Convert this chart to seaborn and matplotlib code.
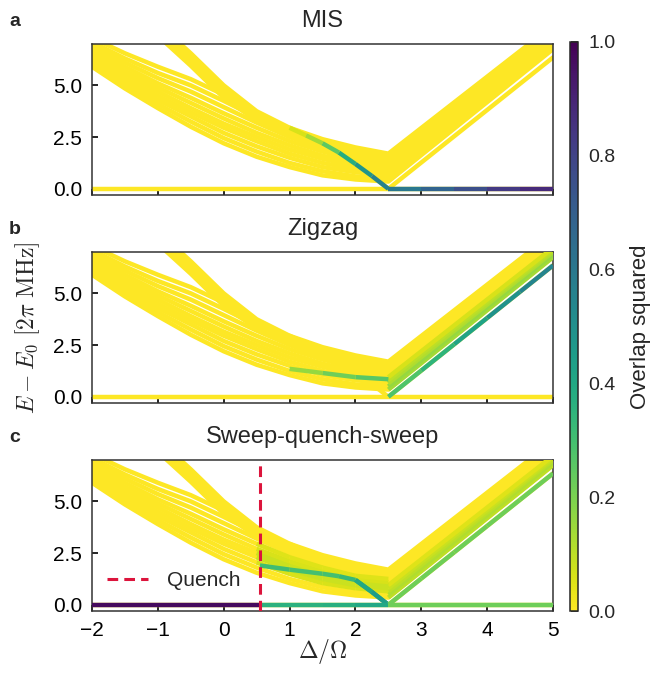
import numpy as np
import pandas as pd
import matplotlib
matplotlib.use("Agg")
import matplotlib.pyplot as plt
import seaborn as sns
from matplotlib.collections import LineCollection
from matplotlib.lines import Line2D
from matplotlib.cm import ScalarMappable
from matplotlib.colors import Normalize

# ---------------- data ----------------
X_KNOTS = [-2.0, -1.5, -1.0, -0.5, 0.0, 0.5, 1.0, 1.5, 2.0, 2.5, 5.0]

# lower band of excited levels
B1 = [5.90, 4.85, 3.90, 3.00, 2.20, 1.55, 1.05, 0.65, 0.45, 0.35, 6.75]
B2 = [6.05, 5.00, 4.10, 3.25, 2.45, 1.80, 1.25, 0.85, 0.60, 0.50, 6.90]
B3 = [6.20, 5.20, 4.30, 3.50, 2.70, 2.05, 1.50, 1.05, 0.80, 0.65, 7.00]
B4 = [6.35, 5.35, 4.50, 3.70, 2.95, 2.30, 1.70, 1.25, 0.95, 0.80, 7.10]
B5 = [6.50, 5.55, 4.70, 3.90, 3.15, 2.50, 1.90, 1.45, 1.10, 0.95, 7.20]
B6 = [6.65, 5.70, 4.90, 4.15, 3.40, 2.70, 2.10, 1.60, 1.25, 1.10, 7.30]
B7 = [6.80, 5.90, 5.10, 4.40, 3.65, 2.95, 2.30, 1.80, 1.40, 1.25, 7.40]
B8 = [6.95, 6.10, 5.35, 4.70, 3.95, 3.20, 2.50, 1.95, 1.55, 1.40, 7.50]
B9 = [7.10, 6.30, 5.60, 5.00, 4.25, 3.45, 2.70, 2.15, 1.70, 1.50, 7.65]
B10 = [7.30, 6.55, 5.90, 5.30, 4.55, 3.65, 2.90, 2.30, 1.85, 1.60, 7.80]
# steep band of levels
S1 = [11.0, 9.50, 8.00, 6.55, 5.00, 3.75, 2.95, 2.40, 2.00, 1.70, 7.90]
S2 = [11.0, 9.30, 7.80, 6.35, 4.80, 3.60, 2.80, 2.30, 1.90, 1.62, 7.80]
S3 = [11.0, 9.10, 7.60, 6.15, 4.60, 3.45, 2.70, 2.20, 1.80, 1.55, 7.70]
S4 = [11.0, 8.90, 7.40, 5.95, 4.40, 3.30, 2.60, 2.10, 1.75, 1.50, 7.60]

# ground level
GROUND_X = [-2.0, -1.5, -1.0, -0.5, 0.0, 0.5, 0.55, 1.0, 1.5, 2.0, 2.5, 3.0, 3.5, 4.0, 4.5, 5.0]
GROUND_E = [0.0, 0.0, 0.0, 0.0, 0.0, 0.0, 0.0, 0.0, 0.0, 0.0, 0.0, 0.0, 0.0, 0.0, 0.0, 0.0]

# level that dips to zero at Delta/Omega = 2.5
DIP_X = [1.0, 1.25, 1.5, 1.75, 2.0, 2.25, 2.5, 3.0, 3.5, 4.0, 4.5, 5.0]
DIP_E = [2.95, 2.58, 2.20, 1.75, 1.20, 0.62, 0.0, 1.27, 2.54, 3.81, 5.08, 6.35]

# coloured path in the zigzag panel
ZZ_X = [1.0, 1.5, 2.0, 2.5]
ZZ_E = [1.35, 1.15, 0.95, 0.85]
# coloured path after the quench
QS_X = [0.55, 1.0, 1.5, 1.75, 2.0, 2.25, 2.5]
QS_E = [1.90, 1.70, 1.50, 1.38, 1.20, 0.62, 0.0]

QUENCH_X = 0.55

# overlap squared on each interval of the paths
OVL_A_GROUND = [0, 0, 0, 0, 0, 0, 0, 0, 0, 0, 0.60, 0.68, 0.76, 0.83, 0.88]
OVL_C_GROUND = [0.97, 0.97, 0.97, 0.97, 0.97, 0.97, 0.36, 0.36, 0.37, 0.40, 0.22, 0.22, 0.22, 0.22, 0.22]
OVL_A_DIP = [0.06, 0.14, 0.25, 0.38, 0.48, 0.56, 0, 0, 0, 0, 0]
OVL_B_DIP = [0, 0, 0, 0, 0, 0, 0.28, 0.35, 0.42, 0.49, 0.55]
OVL_C_DIP = [0, 0, 0, 0, 0.40, 0.45, 0.22, 0.22, 0.22, 0.22, 0.22]
OVL_B_ZZ = [0.16, 0.22, 0.26]
OVL_C_QS = [0.31, 0.30, 0.30, 0.33, 0.40, 0.45]
TAIL_B = [0.14, 0.16, 0.12, 0.10, 0.06, 0, 0, 0, 0, 0]
TAIL_C = [0.10, 0.12, 0.10, 0.08, 0.05, 0, 0, 0, 0, 0]
MID_C = [0, 0, 0.06, 0.08, 0.08, 0.06, 0.05, 0, 0, 0]

TITLES = ["MIS", "Zigzag", "Sweep-quench-sweep"]
LETTERS = ["a", "b", "c"]

# ---------------- style ----------------
sns.set_theme(style="ticks")
plt.rcParams["font.family"] = ["Liberation Sans", "DejaVu Sans"]
plt.rcParams["mathtext.fontset"] = "cm"

CMAP = plt.get_cmap("viridis_r")
NORM = Normalize(0, 1)
YELLOW = CMAP(0.0)
LW = 3.2
TICK_FS = 15
TITLE_FS = 17
MATH_FS = 17

BAND = [B1, B2, B3, B4, B5, B6, B7, B8, B9, B10]
STEEP = [S1, S2, S3, S4]

rows = []
for i, e in enumerate(BAND + STEEP):
    for x, v in zip(X_KNOTS, e):
        rows.append({"x": x, "E": v, "level": f"L{i}"})
for x, v in zip(GROUND_X, GROUND_E):
    rows.append({"x": x, "E": v, "level": "ground"})
for x, v in zip(DIP_X, DIP_E):
    rows.append({"x": x, "E": v, "level": "dip"})
df = pd.DataFrame(rows)


def colored_path(ax, xs, es, ovl, z=3):
    pts = np.column_stack([xs, es])
    segs = np.stack([pts[:-1], pts[1:]], axis=1)
    ovl = np.asarray(ovl, dtype=float)
    keep = ovl > 0
    if not keep.any():
        return
    lc = LineCollection(segs[keep], colors=CMAP(NORM(ovl[keep])), linewidths=LW,
                        capstyle="butt", zorder=z)
    ax.add_collection(lc)


fig = plt.figure(figsize=(6.5, 6.73), dpi=100)
W, H = 650, 673
axes = []
tops = [44, 252, 460]
for t in tops:
    ax = fig.add_axes([92 / W, 1 - (t + 151) / H, 461 / W, 151 / H])
    axes.append(ax)

for k, ax in enumerate(axes):
    sns.lineplot(data=df, x="x", y="E", units="level", estimator=None, sort=False,
                 color=YELLOW, lw=LW, legend=False, ax=ax, zorder=2)
    ax.set_xlim(-2, 5)
    ax.set_ylim(-0.3, 7.0)
    ax.set_yticks([0, 2.5, 5.0])
    ax.set_yticklabels(["0.0", "2.5", "5.0"])
    ax.set_xticks([-2, -1, 0, 1, 2, 3, 4, 5])
    ax.set_xlabel("")
    ax.set_ylabel("")
    ax.tick_params(direction="in", length=4, width=1.2, labelsize=TICK_FS,
                   colors="black", pad=7)
    for sp in ax.spines.values():
        sp.set_visible(True)
        sp.set_color("0.2")
        sp.set_linewidth(1.1)
    if k < 2:
        ax.tick_params(labelbottom=False)
    ax.set_title(TITLES[k], fontsize=TITLE_FS, pad=12)
    pos = ax.get_position()
    fig.text(9 / W, pos.y1 + 18 / H, LETTERS[k], fontsize=14, fontweight="bold",
             ha="left", va="baseline")

# panel a colouring
colored_path(axes[0], GROUND_X, GROUND_E, OVL_A_GROUND)
colored_path(axes[0], DIP_X, DIP_E, OVL_A_DIP)

# panel b colouring
for e, o in zip(BAND, TAIL_B):
    colored_path(axes[1], X_KNOTS[-2:], e[-2:], [o])
colored_path(axes[1], ZZ_X, ZZ_E, OVL_B_ZZ)
colored_path(axes[1], DIP_X, DIP_E, OVL_B_DIP)

# panel c colouring
for e, o, m in zip(BAND, TAIL_C, MID_C):
    colored_path(axes[2], X_KNOTS[-2:], e[-2:], [o])
    colored_path(axes[2], X_KNOTS[5:10], e[5:10], [m, m, m, m])
colored_path(axes[2], QS_X, QS_E, OVL_C_QS)
colored_path(axes[2], DIP_X, DIP_E, OVL_C_DIP)
colored_path(axes[2], GROUND_X, GROUND_E, OVL_C_GROUND, z=4)

axes[2].axvline(QUENCH_X, color="crimson", lw=2.2, ls=(0, (3.5, 2)), zorder=5)
handle = Line2D([], [], color="crimson", lw=2.2, ls=(0, (3.5, 2)))
axes[2].legend([handle], ["Quench"], loc="center left", bbox_to_anchor=(0.0, 0.2),
               frameon=False, fontsize=15, handlelength=2.0, handletextpad=0.9,
               borderaxespad=0.3)

# axis labels
pb = axes[1].get_position()
fig.text(28 / W, (pb.y0 + pb.y1) / 2, r"$E - E_0\ [2\pi\ \mathrm{MHz}]$",
         rotation=90, ha="center", va="center", fontsize=MATH_FS)
pc = axes[2].get_position()
fig.text((pc.x0 + pc.x1) / 2, 7 / H, r"$\Delta/\Omega$", ha="center", va="bottom",
         fontsize=MATH_FS)

# colorbar
cax = fig.add_axes([570 / W, 1 - 611 / H, 8 / W, 569 / H])
cb = fig.colorbar(ScalarMappable(norm=NORM, cmap=CMAP), cax=cax)
cb.set_ticks([0, 0.2, 0.4, 0.6, 0.8, 1.0])
cb.set_ticklabels(["0.0", "0.2", "0.4", "0.6", "0.8", "1.0"])
cb.ax.tick_params(direction="in", length=5, width=1.2, labelsize=14, pad=7.5)
cb.outline.set_linewidth(1.1)
cb.set_label("Overlap squared", fontsize=16, labelpad=10)

fig.savefig("out.png", dpi=100)
